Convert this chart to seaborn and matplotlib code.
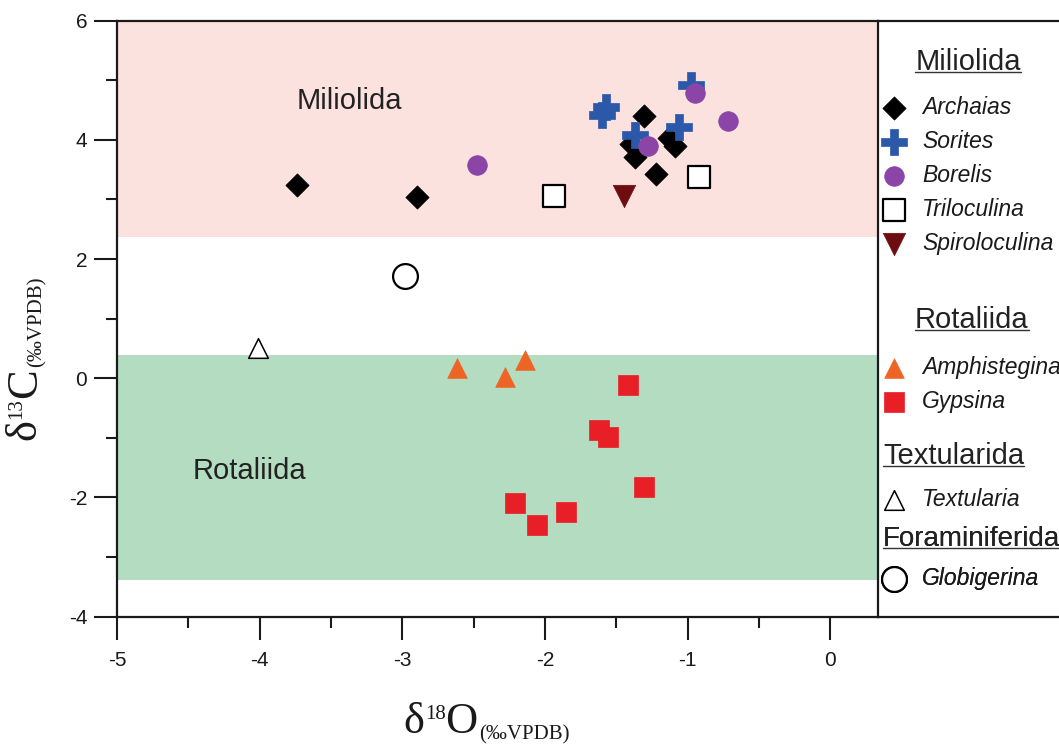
import numpy as np
import pandas as pd
import seaborn as sns
import matplotlib.pyplot as plt
from matplotlib.lines import Line2D

# isotope values (permil VPDB)
archaias_x = [-3.74, -2.90, -1.31, -1.40, -1.37, -1.13, -1.09, -1.22]
archaias_y = [3.24, 3.04, 4.40, 3.93, 3.71, 4.03, 3.90, 3.42]
sorites_x = [-1.57, -1.60, -1.37, -1.06, -0.98]
sorites_y = [4.56, 4.42, 4.08, 4.22, 4.92]
borelis_x = [-2.48, -0.95, -0.72, -1.28]
borelis_y = [3.58, 4.79, 4.32, 3.89]
triloculina_x = [-1.94, -0.92]
triloculina_y = [3.06, 3.38]
spiroloculina_x = [-1.45]
spiroloculina_y = [3.06]
amphistegina_x = [-2.62, -2.28, -2.14]
amphistegina_y = [0.17, 0.03, 0.31]
gypsina_x = [-1.42, -1.62, -1.56, -1.31, -2.21, -2.06, -1.85]
gypsina_y = [-0.12, -0.86, -0.98, -1.82, -2.09, -2.46, -2.25]
textularia_x = [-4.01]
textularia_y = [0.50]
globigerina_x = [-2.98]
globigerina_y = [1.72]

orders = ["Miliolida", "Rotaliida", "Textularida", "Foraminiferida"]
genera = {
    "Miliolida": ["Archaias", "Sorites", "Borelis", "Triloculina", "Spiroloculina"],
    "Rotaliida": ["Amphistegina", "Gypsina"],
    "Textularida": ["Textularia"],
    "Foraminiferida": ["Globigerina"],
}
points = {
    "Archaias": (archaias_x, archaias_y),
    "Sorites": (sorites_x, sorites_y),
    "Borelis": (borelis_x, borelis_y),
    "Triloculina": (triloculina_x, triloculina_y),
    "Spiroloculina": (spiroloculina_x, spiroloculina_y),
    "Amphistegina": (amphistegina_x, amphistegina_y),
    "Gypsina": (gypsina_x, gypsina_y),
    "Textularia": (textularia_x, textularia_y),
    "Globigerina": (globigerina_x, globigerina_y),
}
# marker, size, face, edge, edge width
styles = {
    "Archaias": ("D", 140, "black", "black", 0.5),
    "Sorites": ("P", 330, "#2b58a8", "#2b58a8", 0.5),
    "Borelis": ("o", 200, "#8b45a6", "#8b45a6", 0.5),
    "Triloculina": ("s", 260, "white", "black", 1.6),
    "Spiroloculina": ("v", 260, "#6e0d10", "#6e0d10", 0.5),
    "Amphistegina": ("^", 200, "#ee6424", "#ee6424", 0.5),
    "Gypsina": ("s", 190, "#e81f27", "#e81f27", 0.5),
    "Textularia": ("^", 200, "white", "black", 1.1),
    "Globigerina": ("o", 320, "white", "black", 1.6),
}

sns.set_style("ticks")
plt.rcParams["font.family"] = ["Liberation Sans", "DejaVu Sans"]
plt.rcParams["axes.unicode_minus"] = False

W, H = 1059, 745
fig = plt.figure(figsize=(W / 100, H / 100), dpi=100)
side = fig.add_axes([878 / W, 128.3 / H, 190 / W, 596 / H])
ax = fig.add_axes([117 / W, 128.3 / H, 761 / W, 596 / H])
side.patch.set_facecolor("none")

ax.axhspan(2.37, 6, color="#fce2df", lw=0, zorder=0)
ax.axhspan(-3.39, 0.39, color="#b3dcc1", lw=0, zorder=0)

handles = {}
for name, (xs, ys) in points.items():
    m, s, fc, ec, lw = styles[name]
    df = pd.DataFrame({"d18O": xs, "d13C": ys})
    sns.scatterplot(data=df, x="d18O", y="d13C", marker=m, s=s, color=fc,
                    edgecolor=ec, linewidth=lw, ax=ax, legend=False, zorder=3)
    handles[name] = ax.collections[-1]

ax.text(-3.37, 4.65, "Miliolida", fontsize=21, color="#222222", ha="center", va="center")
ax.text(-4.07, -1.56, "Rotaliida", fontsize=21, color="#222222", ha="center", va="center")

ax.set_xlim(-5, 0.333)
ax.set_ylim(-4, 6)
ax.set_xticks(np.arange(-5, 1, 1))
ax.set_xticks(np.arange(-4.5, 0, 1), minor=True)
ax.set_yticks(np.arange(-4, 7, 2))
ax.set_yticks(np.arange(-3, 6, 2), minor=True)
ax.set_xlabel("")
ax.set_ylabel("")
ax.tick_params(which="major", length=16.5, width=1.5, direction="out", labelsize=15,
               colors="#1a1a1a")
ax.tick_params(axis="x", which="major", pad=8.5)
ax.tick_params(axis="y", which="major", pad=5)
ax.tick_params(which="minor", length=8, width=1.5, direction="out", colors="#1a1a1a")
for sp in ax.spines.values():
    sp.set_linewidth(1.6)
    sp.set_color("#1a1a1a")
ax.spines["top"].set_visible(True)
ax.spines["right"].set_visible(True)

# axis titles built from pieces so the sub/superscripts stay small
serif = "Liberation Serif"
d = ax.annotate("δ", xy=(0.376, 0), xycoords="axes fraction", xytext=(0, -84),
                textcoords="offset points", ha="left", va="baseline", fontsize=32,
                family=serif, color="#1a1a1a", annotation_clip=False)
s1 = ax.annotate("18", xy=(1, 1), xycoords=d, xytext=(0.5, -2), textcoords="offset points",
                 ha="left", va="top", fontsize=15, family=serif, color="#1a1a1a")
o = ax.annotate("O", xy=(1, 0), xycoords=(s1, d), ha="left", va="bottom", fontsize=32,
                family=serif, color="#1a1a1a")
ax.annotate("(‰VPDB)", xy=(1, 0.2), xycoords=o, xytext=(1, 0), textcoords="offset points",
            ha="left", va="center", fontsize=15, family=serif, color="#1a1a1a")

dy = ax.annotate("δ", xy=(0, 0.296), xycoords="axes fraction", xytext=(-52, 0),
                 textcoords="offset points", ha="right", va="bottom", rotation=90,
                 fontsize=32, family=serif, color="#1a1a1a", annotation_clip=False)
s2 = ax.annotate("13", xy=(0, 1), xycoords=dy, xytext=(2, 0.5), textcoords="offset points",
                 ha="left", va="bottom", rotation=90, fontsize=15, family=serif,
                 color="#1a1a1a")
c = ax.annotate("C", xy=(1, 1), xycoords=(dy, s2), ha="right", va="bottom", rotation=90,
                fontsize=32, family=serif, color="#1a1a1a")
ax.annotate("(‰VPDB)", xy=(0.8, 1), xycoords=c, xytext=(0, 1), textcoords="offset points",
            ha="center", va="bottom", rotation=90, fontsize=15, family=serif,
            color="#1a1a1a")

# legend panel to the right
side.set_xticks([])
side.set_yticks([])
side.spines["left"].set_visible(False)
side.spines["right"].set_visible(False)
for k in ["top", "bottom"]:
    side.spines[k].set_linewidth(1.6)
    side.spines[k].set_color("#1a1a1a")

title_px = {"Miliolida": 48, "Rotaliida": 306, "Textularida": 442, "Foraminiferida": 526}
title_gap = {"Miliolida": 7, "Rotaliida": 8, "Textularida": 5, "Foraminiferida": 3}
title_size = {"Miliolida": 21, "Rotaliida": 21, "Textularida": 21, "Foraminiferida": 20}
align = {"Miliolida": "center", "Rotaliida": "center", "Textularida": "left",
         "Foraminiferida": "left"}
fs = 16.5
lspace = 0.47
legs = []
for grp in orders:
    names = genera[grp]
    leg = side.legend([handles[n] for n in names], names, title=grp,
                      loc="upper left",
                      bbox_to_anchor=(5 / 190, (616.7 - title_px[grp]) / 596),
                      frameon=False, borderpad=0, borderaxespad=0,
                      prop={"style": "italic", "size": fs},
                      title_fontproperties={"size": title_size[grp]},
                      labelspacing=lspace, handlelength=1.0, handletextpad=0.7,
                      scatterpoints=1, alignment=align[grp])
    # a bit more room between group title and its first entry
    leg._legend_box.sep = lspace * fs + title_gap[grp]
    leg.get_title().set_color("#222222")
    for t in leg.get_texts():
        t.set_color("#1a1a1a")
    side.add_artist(leg)
    legs.append(leg)

fig.canvas.draw()
inv = fig.transFigure.inverted()
for leg in legs:
    bb = leg.get_title().get_window_extent()
    (x0, y0), (x1, _) = inv.transform([[bb.x0, bb.y0 + 4], [bb.x1, bb.y0 + 4]])
    fig.add_artist(Line2D([x0, x1], [y0, y0], color="#333333", lw=1.0))

fig.savefig("out.png", dpi=100)
